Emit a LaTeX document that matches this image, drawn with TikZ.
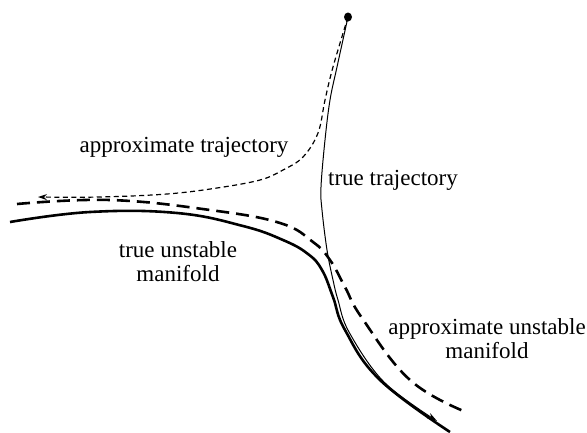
\documentclass[tikz,border=0pt]{standalone}
\usepackage{fontspec}
\setmainfont{Liberation Serif}
\usetikzlibrary{shapes.geometric, arrows.meta, positioning}

\begin{document}
\begin{tikzpicture}[x=1pt,y=-1pt,
    lbl/.style={font=\fontsize{23}{24}\selectfont, inner sep=0pt},
    manif/.style={line width=2.6pt},
    approxmanif/.style={line width=2.6pt, dash pattern=on 13pt off 7pt},
    traj/.style={line width=1pt},
    approxtraj/.style={line width=1.2pt, dash pattern=on 5pt off 3.5pt}]
  \useasboundingbox (0,0) rectangle (587,432);
  % start point
  \node[ellipse, fill, inner sep=0pt, minimum width=8pt, minimum height=9pt] (dot) at (348,17) {};
  % true unstable manifold
  \draw[manif] plot[smooth, tension=0.7] coordinates {
    (10,222) (90,212) (177,213) (243,226) (283,240) (308,254) (322,270)
    (333,297) (345,330) (380,380) (450,432)};
  % approximate unstable manifold
  \draw[approxmanif] plot[smooth, tension=0.7] coordinates {
    (17,204) (110,200) (210,210) (280,223) (313,242) (330,260)
    (345,287) (362,318) (410,380) (466,412)};
  % true trajectory
  \draw[traj, -{Stealth[length=10pt, width=6pt]}] plot[smooth, tension=0.6] coordinates {
    (348,17) (337,67) (330,100) (325,140) (321,187) (322,210) (327,250)
    (333,280) (338,300) (349,332) (384,382) (437,421)};
  % approximate trajectory
  \draw[approxtraj, -{Stealth[length=9pt, width=6pt]}] plot[smooth, tension=0.6] coordinates {
    (348,17) (333,67) (325,100) (318,133) (303,157) (283,170)
    (260,180) (217,188) (167,194) (100,197) (38,197)};
  % labels
  \node[lbl] (atraj) at (184,147) {approximate trajectory};
  \node[lbl] (ttraj) at (393,180) {true trajectory};
  \node[lbl, align=center] (tman) at (178,262) {true unstable\\manifold};
  \node[lbl, align=center] (aman) at (487,339) {approximate unstable\\manifold};
\end{tikzpicture}
\end{document}
